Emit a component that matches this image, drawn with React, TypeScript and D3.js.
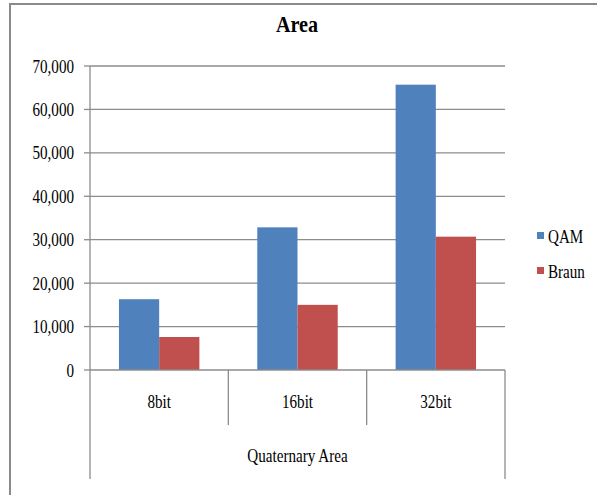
import React from "react";
import * as d3 from "d3";

const categories = ["8bit", "16bit", "32bit"];
const seriesNames = ["QAM", "Braun"];
const qamValues = [16300, 32850, 65700];
const braunValues = [7600, 15000, 30700];
const yTicks = [0, 10000, 20000, 30000, 40000, 50000, 60000, 70000];
const groupLabel = "Quaternary Area";
const title = "Area";
const colors = ["#4F81BD", "#C0504D"];

const SX = 0.84;

function T(props: { x: number; y: number; anchor?: string; size?: number; bold?: boolean; children: React.ReactNode }) {
  const { x, y, anchor = "start", size = 18, bold = false, children } = props;
  return (
    <text
      transform={`translate(${x},${y}) scale(${SX},1)`}
      textAnchor={anchor}
      fontSize={size}
      fontWeight={bold ? "bold" : "normal"}
      fill="#000"
    >
      {children}
    </text>
  );
}

export default function App() {
  const W = 597, H = 495;
  const left = 90, right = 505, top = 66, bottom = 370;
  const y = d3.scaleLinear().domain([0, 70000]).range([bottom, top]);
  const x = d3.scaleBand().domain(categories).range([left, right]).paddingInner(0).paddingOuter(0);
  const inner = d3.scaleBand().domain(seriesNames).range([0, x.bandwidth()]).paddingInner(0).paddingOuter(0.72);
  const fmt = d3.format(",");
  const series = [qamValues, braunValues];
  const font = "'Liberation Serif', 'Times New Roman', serif";
  const grid = "#8c8c8c";

  return (
    <svg width={W} height={H} style={{ position: "absolute", left: 0, top: 0, background: "#fff" }} fontFamily={font}>
      <rect x={10} y={4} width={W} height={H} fill="#fff" stroke="#8a8a8a" strokeWidth={2} />
      <T x={297} y={32} anchor="middle" size={24} bold>{title}</T>
      {yTicks.map((t) => (
        <g key={t}>
          {t > 0 && <line x1={left} x2={right} y1={y(t)} y2={y(t)} stroke={grid} strokeWidth={1.3} />}
          <line x1={84} x2={left} y1={y(t)} y2={y(t)} stroke={grid} strokeWidth={1.3} />
          <T x={74} y={y(t) + 6.5} anchor="end">{fmt(t)}</T>
        </g>
      ))}
      {categories.map((c, i) =>
        series.map((vals, s) => (
          <rect
            key={c + s}
            x={(x(c) as number) + (inner(seriesNames[s]) as number)}
            y={y(vals[i])}
            width={inner.bandwidth()}
            height={bottom - y(vals[i])}
            fill={colors[s]}
          />
        ))
      )}
      <line x1={left} x2={right} y1={bottom} y2={bottom} stroke={grid} strokeWidth={1.3} />
      <line x1={left} x2={left} y1={top} y2={479} stroke={grid} strokeWidth={1.3} />
      <line x1={right} x2={right} y1={bottom} y2={479} stroke={grid} strokeWidth={1.3} />
      {categories.slice(1).map((c) => (
        <line key={c} x1={x(c) as number} x2={x(c) as number} y1={bottom} y2={425} stroke={grid} strokeWidth={1.3} />
      ))}
      {categories.map((c) => (
        <T key={c} x={(x(c) as number) + x.bandwidth() / 2} y={408} anchor="middle">{c}</T>
      ))}
      <T x={(left + right) / 2} y={462} anchor="middle">{groupLabel}</T>
      {seriesNames.map((n, i) => (
        <g key={n}>
          <rect x={537} y={232 + i * 35} width={7} height={7} fill={colors[i]} />
          <T x={548} y={243 + i * 35}>{n}</T>
        </g>
      ))}
    </svg>
  );
}
